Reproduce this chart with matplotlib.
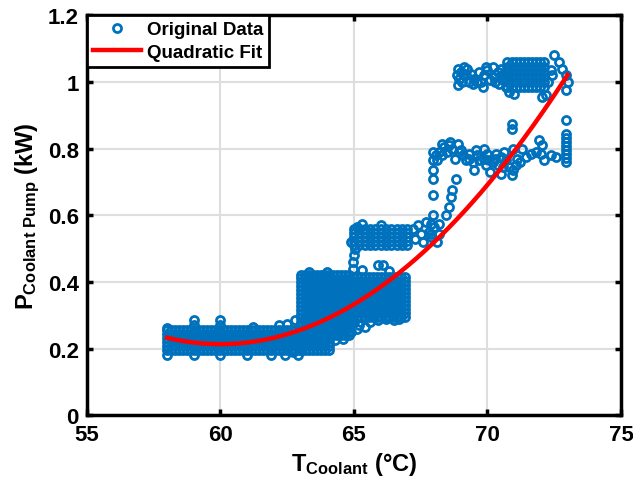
import numpy as np
import matplotlib
matplotlib.use('Agg')
from matplotlib import pyplot as plt

plt.rcParams['font.family'] = ['Liberation Sans', 'DejaVu Sans']
plt.rcParams['font.weight'] = 'bold'
plt.rcParams['mathtext.fontset'] = 'custom'
plt.rcParams['mathtext.rm'] = 'Liberation Sans:bold'
plt.rcParams['mathtext.bf'] = 'Liberation Sans:bold'
plt.rcParams['mathtext.it'] = 'Liberation Sans:bold'

# Dense clusters: each temperature of a cluster is paired with each power level
low_T = [58.0, 58.15, 58.3, 58.45, 58.6, 58.75, 58.9, 59.05, 59.2, 59.35, 59.5, 59.65,
         59.8, 59.95, 60.1, 60.25, 60.4, 60.55, 60.7, 60.85, 61.0, 61.15, 61.3, 61.45,
         61.6, 61.75, 61.9, 62.05, 62.2, 62.35, 62.5, 62.65, 62.8, 62.95]
low_P = [0.195, 0.207, 0.219, 0.231, 0.243, 0.255]

blockA_T = [63.0, 63.15, 63.3, 63.45, 63.6, 63.75, 63.9, 64.05]
blockA_P = [0.195, 0.207, 0.219, 0.231, 0.243, 0.255, 0.267, 0.279, 0.291, 0.303,
            0.315, 0.327, 0.339, 0.351, 0.363, 0.375, 0.387, 0.399, 0.411, 0.42]
blockB_T = [64.2, 64.35, 64.5, 64.65, 64.8]
blockB_P = [0.24, 0.252, 0.264, 0.276, 0.288, 0.3, 0.312, 0.324, 0.336, 0.348, 0.36,
            0.372, 0.384, 0.396, 0.408, 0.42]
blockC_T = [64.95, 65.1, 65.25, 65.4, 65.55, 65.7, 65.85, 66.0, 66.15, 66.3, 66.45,
            66.6, 66.75, 66.9]
blockC_P = [0.295, 0.307, 0.319, 0.331, 0.343, 0.355, 0.367, 0.379, 0.391, 0.403,
            0.415]
mid_T = [65.0, 65.2, 65.4, 65.6, 65.8, 66.0, 66.2, 66.4, 66.6, 66.8, 67.0]
mid_P = [0.51, 0.522, 0.534, 0.546, 0.558]
top_T = [70.75, 70.9, 71.05, 71.2, 71.35, 71.5, 71.65, 71.8, 71.95, 72.1]
top_P = [0.985, 1.0, 1.015, 1.03, 1.045, 1.06]

# Scattered points around the clusters
lowx_T = [58.0, 59.0, 60.0, 61.0, 61.9, 62.9, 58.0, 59.0, 59.0, 60.0, 60.0, 61.2,
          62.2, 62.5, 62.8, 62.4, 62.7]
lowx_P = [0.18, 0.18, 0.18, 0.18, 0.18, 0.18, 0.262, 0.285, 0.27, 0.285, 0.27, 0.265,
          0.27, 0.275, 0.285, 0.18, 0.19]

blkx_T = [63.3, 64.0, 64.9, 65.1, 65.0, 65.2, 65.4, 65.6, 65.9, 66.2, 66.5, 66.7,
          65.3, 65.9, 66.07, 66.33, 64.95, 64.95, 65.0, 65.05, 64.9, 65.1, 64.3, 64.6]
blkx_P = [0.43, 0.43, 0.25, 0.26, 0.28, 0.27, 0.265, 0.28, 0.285, 0.29, 0.285, 0.29,
          0.435, 0.45, 0.45, 0.434, 0.44, 0.46, 0.48, 0.5, 0.52, 0.565, 0.225, 0.23]

midx_T = [67.2, 67.3, 67.4, 67.5, 67.6, 67.7, 67.8, 67.9, 68.0, 68.1, 68.2, 65.3, 66.0]
midx_P = [0.56, 0.53, 0.57, 0.545, 0.52, 0.58, 0.55, 0.535, 0.565, 0.52, 0.545, 0.575,
          0.57]

rise_T = [68.2, 68.45, 68.57, 68.63, 68.69, 68.82, 67.95, 67.95, 67.95, 67.95, 67.95,
          67.9, 67.9]
rise_P = [0.575, 0.6, 0.625, 0.655, 0.675, 0.71, 0.66, 0.71, 0.735, 0.765, 0.6, 0.575,
          0.545]

band8_T = [67.95, 68.07, 68.2, 68.38, 68.57, 68.69, 68.88, 68.94, 69.07, 69.19, 69.32,
           69.44, 69.57, 69.69, 69.88, 69.88, 69.94, 70.07, 70.19, 70.32, 70.38, 70.5,
           70.62, 70.69, 70.81, 70.94, 70.94, 71.06, 71.31, 71.44, 71.62, 71.81, 71.93,
           72.0, 72.06, 72.12, 72.37, 72.56,
           68.1, 68.3, 68.5, 68.8, 69.0, 69.3, 69.6, 70.0, 70.3, 70.6, 71.1, 71.2, 70.1,
           70.5, 70.9, 69.5, 68.3, 68.6]
band8_P = [0.79, 0.78, 0.79, 0.805, 0.81, 0.8, 0.815, 0.79, 0.78, 0.765, 0.785, 0.76,
           0.795, 0.765, 0.8, 0.77, 0.75, 0.765, 0.76, 0.785, 0.75, 0.775, 0.79, 0.765,
           0.745, 0.8, 0.735, 0.75, 0.8, 0.775, 0.785, 0.79, 0.825, 0.785, 0.81, 0.765,
           0.78, 0.775,
           0.765, 0.78, 0.79, 0.77, 0.795, 0.77, 0.78, 0.785, 0.77, 0.745, 0.77, 0.76,
           0.73, 0.725, 0.72, 0.735, 0.815, 0.82]

col_T = [72.93, 72.93, 72.93, 72.93, 72.93, 72.93, 72.93, 72.93, 72.95, 70.93, 70.93]
col_P = [0.76, 0.772, 0.784, 0.796, 0.808, 0.82, 0.832, 0.845, 0.885, 0.858, 0.873]

band10_T = [68.88, 68.94, 68.88, 69.13, 69.19, 69.38, 69.5, 69.69, 69.88, 70.0, 70.19,
            70.25, 70.38, 70.44, 70.56, 70.69, 69.82, 69.32, 69.0, 72.5, 72.68, 72.37,
            72.8, 72.93, 73.0, 72.93, 72.18, 72.25, 72.43, 72.06, 70.8, 71.0, 69.6, 70.1,
            69.05, 69.25, 69.45, 69.75, 69.95, 70.3, 70.5, 68.85, 69.1, 70.6]
band10_P = [1.04, 1.01, 0.99, 1.045, 1.02, 1.025, 1.01, 1.03, 1.02, 1.035, 1.045,
            1.015, 1.03, 0.995, 1.02, 0.985, 0.985, 1.0, 1.03, 1.08, 1.06, 1.035,
            1.04, 1.02, 1.0, 0.975, 0.96, 1.0, 1.02, 0.955, 0.97, 0.965, 1.0, 1.005,
            1.0, 1.04, 0.995, 1.0, 1.045, 1.0, 1.04, 1.02, 1.025, 1.005]

# Quadratic fit coefficients (highest power first) and its temperature range
fit_coef = [0.00478, -0.5736, 17.422]
fit_range = [58.0, 73.0]


def grid(temps, levels):
    tt, pp = np.meshgrid(temps, levels)
    return list(tt.ravel()), list(pp.ravel())


T_all, P_all = [], []
for temps, levels in [(low_T, low_P), (blockA_T, blockA_P), (blockB_T, blockB_P),
                      (blockC_T, blockC_P), (mid_T, mid_P), (top_T, top_P)]:
    t, p = grid(temps, levels)
    T_all += t
    P_all += p
for temps, levels in [(lowx_T, lowx_P), (blkx_T, blkx_P), (midx_T, midx_P),
                      (rise_T, rise_P), (band8_T, band8_P), (col_T, col_P),
                      (band10_T, band10_P)]:
    T_all += temps
    P_all += levels

T_fit = np.linspace(fit_range[0], fit_range[1], 200)
P_fit = np.polyval(fit_coef, T_fit)

fig = plt.figure(figsize=(6.33, 4.89), dpi=100)
ax = fig.add_axes([0.1374, 0.1483, 0.8436, 0.818])
ax.plot(T_all, P_all, 'o', mfc='none', mec='#0072BD', mew=2.0, ms=5.8,
        label='Original Data')
ax.plot(T_fit, P_fit, color='red', lw=3.2, label='Quadratic Fit')

ax.set_xlim(55, 75)
ax.set_ylim(0, 1.2)
ax.set_xticks([55, 60, 65, 70, 75])
ax.set_yticks([0, 0.2, 0.4, 0.6, 0.8, 1.0, 1.2])
ax.set_yticklabels(['0', '0.2', '0.4', '0.6', '0.8', '1', '1.2'])
ax.grid(True, color='#dedede', lw=1.5)
ax.set_axisbelow(True)
for s in ax.spines.values():
    s.set_linewidth(2.5)
ax.tick_params(direction='in', length=4, width=2.5, labelsize=16,
               top=True, right=True, pad=6)
ax.set_xlabel(r'$\mathbf{T_{Coolant}}$ (°C)', fontsize=17, fontweight='bold')
ax.set_ylabel(r'$\mathbf{P_{Coolant\ Pump}}$ (kW)', fontsize=17, fontweight='bold')

leg = ax.legend(loc='upper left', fontsize=13.5, fancybox=False, borderaxespad=0,
                handlelength=2.6, handletextpad=0.3, labelspacing=0.3,
                borderpad=0.3, framealpha=1)
leg.get_frame().set_edgecolor('black')
leg.get_frame().set_linewidth(2)
for t in leg.get_texts():
    t.set_fontweight('bold')

plt.savefig('out.png', dpi=100)
plt.close()
